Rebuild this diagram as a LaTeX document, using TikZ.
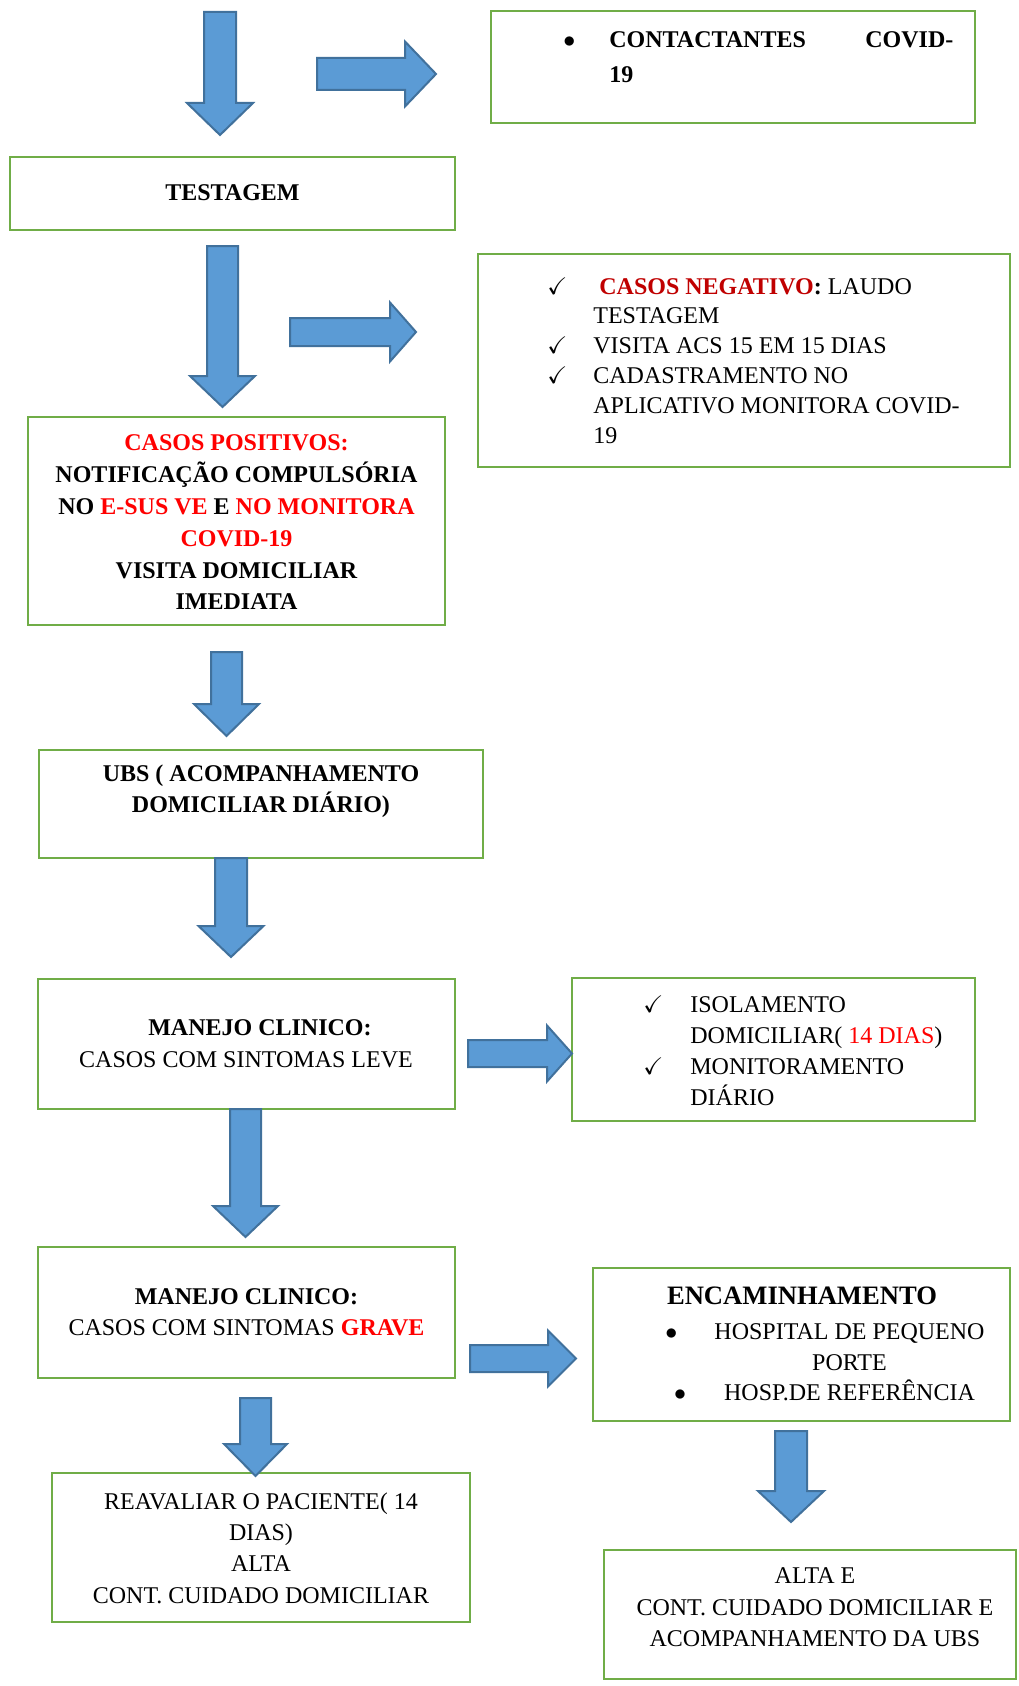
\documentclass[tikz,border=0pt]{standalone}
\usepackage{amssymb}
\usepackage{fontspec}
\setmainfont{Liberation Serif}
\usetikzlibrary{fit}
\definecolor{boxgreen}{HTML}{70AD47}
\definecolor{arrowblue}{HTML}{5B9BD5}
\definecolor{arrowedge}{HTML}{41719C}
\definecolor{redtxt}{HTML}{FF0000}
\definecolor{darkred}{HTML}{C00000}
\newcommand{\chk}[1]{\makebox[#1][l]{$\checkmark$}}
\newcommand{\sz}[1]{\fontsize{12}{#1}\selectfont}

\begin{document}
\begin{tikzpicture}[x=0.5pt,y=0.5pt,yscale=-1,xscale=1,
        box/.style={draw=boxgreen, line width=1.3pt, inner sep=0pt, outer sep=0pt},
        txt/.style={inner sep=0pt, text=black},
        blockarrow/.style={fill=arrowblue, draw=arrowedge, line width=1pt}]
            \path[use as bounding box, fill=white] (0,0) rectangle (1018,1686);
            %
            %Boxes
            \node[box, fit={(491,11) (975,123)}] (contact) {};
            \node[box, fit={(10,157) (455,230)}] (testagem) {};
            \node[box, fit={(478,254) (1010,467)}] (negativo) {};
            \node[box, fit={(28,417) (445,625)}] (positivo) {};
            \node[box, fit={(39,750) (483,858)}] (ubs) {};
            \node[box, fit={(38,979) (455,1109)}] (leve) {};
            \node[box, fit={(572,978) (975,1121)}] (isolamento) {};
            \node[box, fit={(38,1247) (455,1378)}] (grave) {};
            \node[box, fit={(593,1268) (1010,1421)}] (encaminha) {};
            \node[box, fit={(52,1473) (470,1622)}] (reavaliar) {};
            \node[box, fit={(604,1550) (1016,1679)}] (alta) {};
            %
            %Texts
            \node[txt, anchor=west, align=left, font=\bfseries\fontsize{12}{17.5}\selectfont] (contact-txt) at (563,57.5)
                {\makebox[23pt][l]{$\bullet$}\makebox[172pt][l]{CONTACTANTES\hfill COVID-}\\\hspace*{23pt}19};
            \node[txt, font=\bfseries\sz{15}] (testagem-txt) at (232.5,193) {TESTAGEM};
            \node[txt, anchor=west, align=left, font=\sz{14.9}] (negativo-txt) at (547,360.5)
                {\chk{23pt}\hspace{3pt}\textcolor{darkred}{\textbf{CASOS NEGATIVO}}\textbf{:} LAUDO\\
                 \hspace*{23pt}TESTAGEM\\
                 \chk{23pt}VISITA ACS 15 EM 15 DIAS\\
                 \chk{23pt}CADASTRAMENTO NO\\
                 \hspace*{23pt}APLICATIVO MONITORA COVID-\\
                 \hspace*{23pt}19};
            \node[txt, align=center, font=\bfseries\sz{15.9}] (positivo-txt) at (236.5,522.5)
                {\textcolor{redtxt}{CASOS POSITIVOS:}\\
                 NOTIFICAÇÃO COMPULSÓRIA\\
                 NO \textcolor{redtxt}{E-SUS VE} E \textcolor{redtxt}{NO MONITORA}\\
                 \textcolor{redtxt}{COVID-19}\\
                 VISITA DOMICILIAR\\
                 IMEDIATA};
            \node[txt, align=center, font=\bfseries\sz{15.5}] (ubs-txt) at (261,791.5)
                {UBS ( ACOMPANHAMENTO\\ DOMICILIAR DIÁRIO)};
            \node[txt, align=center, font=\sz{16}] (leve-txt) at (246,1044)
                {\hspace*{14pt}\textbf{MANEJO CLINICO:}\\ CASOS COM SINTOMAS LEVE};
            \node[txt, anchor=west, align=left, font=\sz{15.5}] (isolamento-txt) at (643,1050.5)
                {\chk{23.5pt}ISOLAMENTO\\
                 \hspace*{23.5pt}DOMICILIAR( \textcolor{redtxt}{14 DIAS})\\
                 \chk{23.5pt}MONITORAMENTO\\
                 \hspace*{23.5pt}DIÁRIO};
            \node[txt, align=center, font=\sz{15.5}] (grave-txt) at (246.5,1312.5)
                {\textbf{MANEJO CLINICO:}\\ CASOS COM SINTOMAS \textbf{\textcolor{redtxt}{GRAVE}}};
            \node[txt, font=\bfseries\fontsize{13.3}{16}\selectfont] (encaminha-tit) at (802,1296) {ENCAMINHAMENTO};
            \node[txt, align=center, font=\sz{15.25}] (encaminha-txt) at (849.5,1362.5)
                {\llap{$\bullet$\hspace{18.5pt}}HOSPITAL DE PEQUENO\\
                 PORTE\\
                 \llap{$\bullet$\hspace{19pt}}HOSP.DE REFERÊNCIA};
            \node[txt, align=center, font=\sz{15.67}] (reavaliar-txt) at (261,1548)
                {REAVALIAR O PACIENTE( 14\\ DIAS)\\ ALTA\\ CONT. CUIDADO DOMICILIAR};
            \node[txt, align=center, font=\sz{15.75}] (alta-txt) at (815,1607.5)
                {ALTA E\\ CONT. CUIDADO DOMICILIAR E\\ ACOMPANHAMENTO DA UBS};
            %
            %Down arrows
            \foreach \cx/\sw/\hw/\ya/\yb/\yc in {220/16/33/12/103/135, 222.5/15.5/32.5/246/376/407,
                    226.5/15.5/32.5/652/704/736, 231/16/32.5/858/926/957, 245.5/15.5/32.5/1109/1206/1237,
                    255.5/15.5/31.5/1398/1444/1476, 791/16/33/1431/1491/1522} {
                \draw[blockarrow] (\cx-\sw,\ya) -- (\cx+\sw,\ya) -- (\cx+\sw,\yb) -- (\cx+\hw,\yb)
                    -- (\cx,\yc) -- (\cx-\hw,\yb) -- (\cx-\sw,\yb) -- cycle;
            }
            %Right arrows
            \foreach \cy/\sw/\hw/\xa/\xb/\xc in {74/16/32.5/317/405/436, 332/14/29.5/290/390/416,
                    1053.5/13.5/28/468/547/572, 1358.5/13.5/28/470/548/576} {
                \draw[blockarrow] (\xa,\cy-\sw) -- (\xb,\cy-\sw) -- (\xb,\cy-\hw) -- (\xc,\cy)
                    -- (\xb,\cy+\hw) -- (\xb,\cy+\sw) -- (\xa,\cy+\sw) -- cycle;
            }
        \end{tikzpicture}
\end{document}
